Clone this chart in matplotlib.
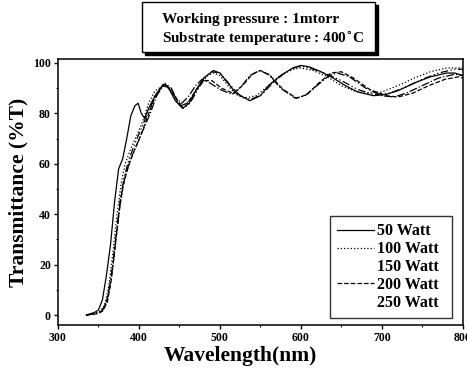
import matplotlib
matplotlib.use('Agg')
import matplotlib.pyplot as plt
from matplotlib.lines import Line2D
from matplotlib.patches import Rectangle

plt.rcParams['font.family'] = ['Liberation Serif', 'DejaVu Serif']
plt.rcParams['font.weight'] = 'bold'

# transmittance curves (wavelength nm, %T)
wl_50 = [335, 340, 345, 350, 355, 360, 365, 370, 375, 380, 385, 390, 395, 399, 403, 407, 412, 420, 430, 435,
         445, 454, 462, 470, 480, 492, 500, 510, 520, 537, 550, 560, 575, 590, 600, 610, 625, 640, 655, 670,
         690, 705, 720, 740, 760, 780, 790, 800]
t_50 = [0, 0.5, 1, 2, 6, 16, 28, 45, 58, 62, 70, 79, 83, 84, 80, 78, 82, 87, 91.5, 91,
        85, 82, 84, 89, 94, 97, 96, 92, 88, 85, 87, 91, 95, 98, 99, 98.5, 96.5, 94, 91, 88.5,
        87, 87.5, 89, 92, 94.5, 96, 96, 95]

wl_100 = [335, 345, 352, 358, 363, 368, 373, 378, 383, 390, 397, 405, 412, 420, 430, 437, 446, 455, 465, 475,
          485, 492, 500, 510, 520, 530, 545, 560, 575, 590, 600, 615, 630, 650, 665, 680, 700, 720, 740, 760,
          780, 800]
t_100 = [0, 0.5, 1.5, 4, 12, 25, 40, 52, 60, 66, 71, 77, 84, 89, 91, 90, 85, 83, 86, 91,
         95, 96, 95, 91, 87.5, 86, 87, 91, 95, 97.5, 98, 97, 95, 91, 89, 88, 88.5, 91, 94, 96.5,
         98, 98]

wl_150 = [335, 345, 352, 358, 363, 368, 373, 378, 383, 390, 398, 406, 414, 422, 430, 438, 446, 453, 462, 470,
          478, 488, 500, 515, 525, 537, 549, 560, 575, 593, 605, 620, 635, 645, 660, 680, 700, 715, 730, 750,
          770, 790, 800]
t_150 = [0, 0.5, 1, 3, 9, 20, 34, 47, 55, 62, 68, 74, 80, 87, 91, 90, 86, 84, 87, 91,
         93.5, 92, 89.5, 87.5, 90, 95, 97, 95.5, 90, 86, 87, 91, 95, 96, 94.5, 90, 87, 86.5, 88, 91,
         94, 95.5, 95]

wl_200 = [335, 348, 355, 361, 366, 371, 376, 381, 387, 394, 402, 410, 418, 427, 433, 442, 451, 460, 470, 480,
          490, 502, 516, 528, 540, 550, 562, 578, 595, 608, 622, 637, 650, 665, 685, 705, 720, 738, 758, 778,
          795, 800]
t_200 = [0, 0.5, 1.5, 5, 14, 28, 42, 52, 59, 65, 71, 78, 85, 90, 91.5, 88, 83, 84, 89, 93,
         93, 90, 88, 91, 95.5, 97, 95, 89.5, 86, 87.5, 92, 96, 96.5, 94, 89.5, 87, 86.5, 88, 91, 93.5,
         94.5, 94]

wl_250 = [335, 350, 357, 362, 367, 372, 377, 382, 388, 395, 403, 412, 422, 432, 440, 448, 455, 463, 472, 482,
          490, 500, 512, 525, 538, 552, 565, 580, 595, 605, 620, 636, 650, 670, 690, 710, 730, 750, 770, 790,
          800]
t_250 = [0, 1, 3, 8, 18, 32, 46, 55, 62, 68, 74, 81, 88, 92, 90, 85, 82, 84, 89, 94.5,
         96.5, 96, 91.5, 87, 85.5, 87.5, 92, 96, 98.5, 98.5, 97, 95, 93, 89.5, 87.5, 88, 90.5, 93.5, 96, 97.5,
         97.5]

labels = ['50 Watt', '100 Watt', '150 Watt', '200 Watt', '250 Watt']
styles = ['-', ':', '-.', '--', (0, (6, 2, 1, 2, 1, 2))]
series = [(wl_50, t_50), (wl_100, t_100), (wl_150, t_150), (wl_200, t_200), (wl_250, t_250)]

fig = plt.figure(figsize=(4.67, 3.72), dpi=100)
ax = fig.add_axes([0.124, 0.126, 0.867, 0.715])

for (x, y), ls in zip(series, styles):
    ax.plot(x, y, color='black', linestyle=ls, linewidth=0.9)

ax.set_xlim(300, 800)
ax.set_ylim(-4, 101.5)
ax.set_xticks([300, 400, 500, 600, 700, 800])
ax.set_xticks([350, 450, 550, 650, 750], minor=True)
ax.set_yticks([0, 20, 40, 60, 80, 100])
ax.set_yticks([10, 30, 50, 70, 90], minor=True)
ax.tick_params(direction='out', length=3, width=1, labelsize=8.5, pad=2)
ax.tick_params(which='minor', direction='out', length=1.5, width=0.8)
for lab in ax.get_xticklabels() + ax.get_yticklabels():
    lab.set_fontweight('bold')
for sp in ax.spines.values():
    sp.set_linewidth(1.1)

ax.set_xlabel('Wavelength(nm)', fontsize=15.5, fontweight='bold', labelpad=3)
ax.xaxis.set_label_coords(0.45, -0.08)
ax.set_ylabel('Transmittance (%T)', fontsize=15.5, fontweight='bold', labelpad=3)

# legend: only some samples visible in the scan
handles = []
for lab, ls in zip(labels, styles):
    c = 'black' if lab in ('50 Watt', '100 Watt', '200 Watt') else (1, 1, 1, 0)
    handles.append(Line2D([], [], color=c, linestyle=ls, linewidth=0.9))
leg = ax.legend(handles, labels, loc='lower right', bbox_to_anchor=(0.707, 0.145, 0.261, 0.29),
                bbox_transform=fig.transFigure, mode='expand', fontsize=11.5, frameon=True,
                fancybox=False, handlelength=2.3, handletextpad=0.2, labelspacing=0.12,
                borderpad=0.45, borderaxespad=0)
leg.get_frame().set_edgecolor('black')
leg.get_frame().set_linewidth(1.0)
for t in leg.get_texts():
    t.set_fontweight('bold')

# condition box with drop shadow
fig.patches.append(Rectangle((145 / 467, 1 - 55 / 372), 233 / 467, 50 / 372, transform=fig.transFigure,
                             facecolor='black', edgecolor='black', zorder=1))
fig.patches.append(Rectangle((142 / 467, 1 - 52 / 372), 233 / 467, 50 / 372, transform=fig.transFigure,
                             facecolor='white', edgecolor='black', linewidth=1.0, zorder=2))
fig.text(162 / 467, 1 - 19 / 372, 'Working pressure : 1mtorr', fontsize=11, fontweight='bold',
         va='center', ha='left', zorder=3)
fig.text(162 / 467, 1 - 39 / 372, 'Substrate temperature : 400$^{\\mathbf{\\circ}}$C', fontsize=11,
         fontweight='bold', va='center', ha='left', zorder=3)

fig.savefig('out.png', dpi=100)
